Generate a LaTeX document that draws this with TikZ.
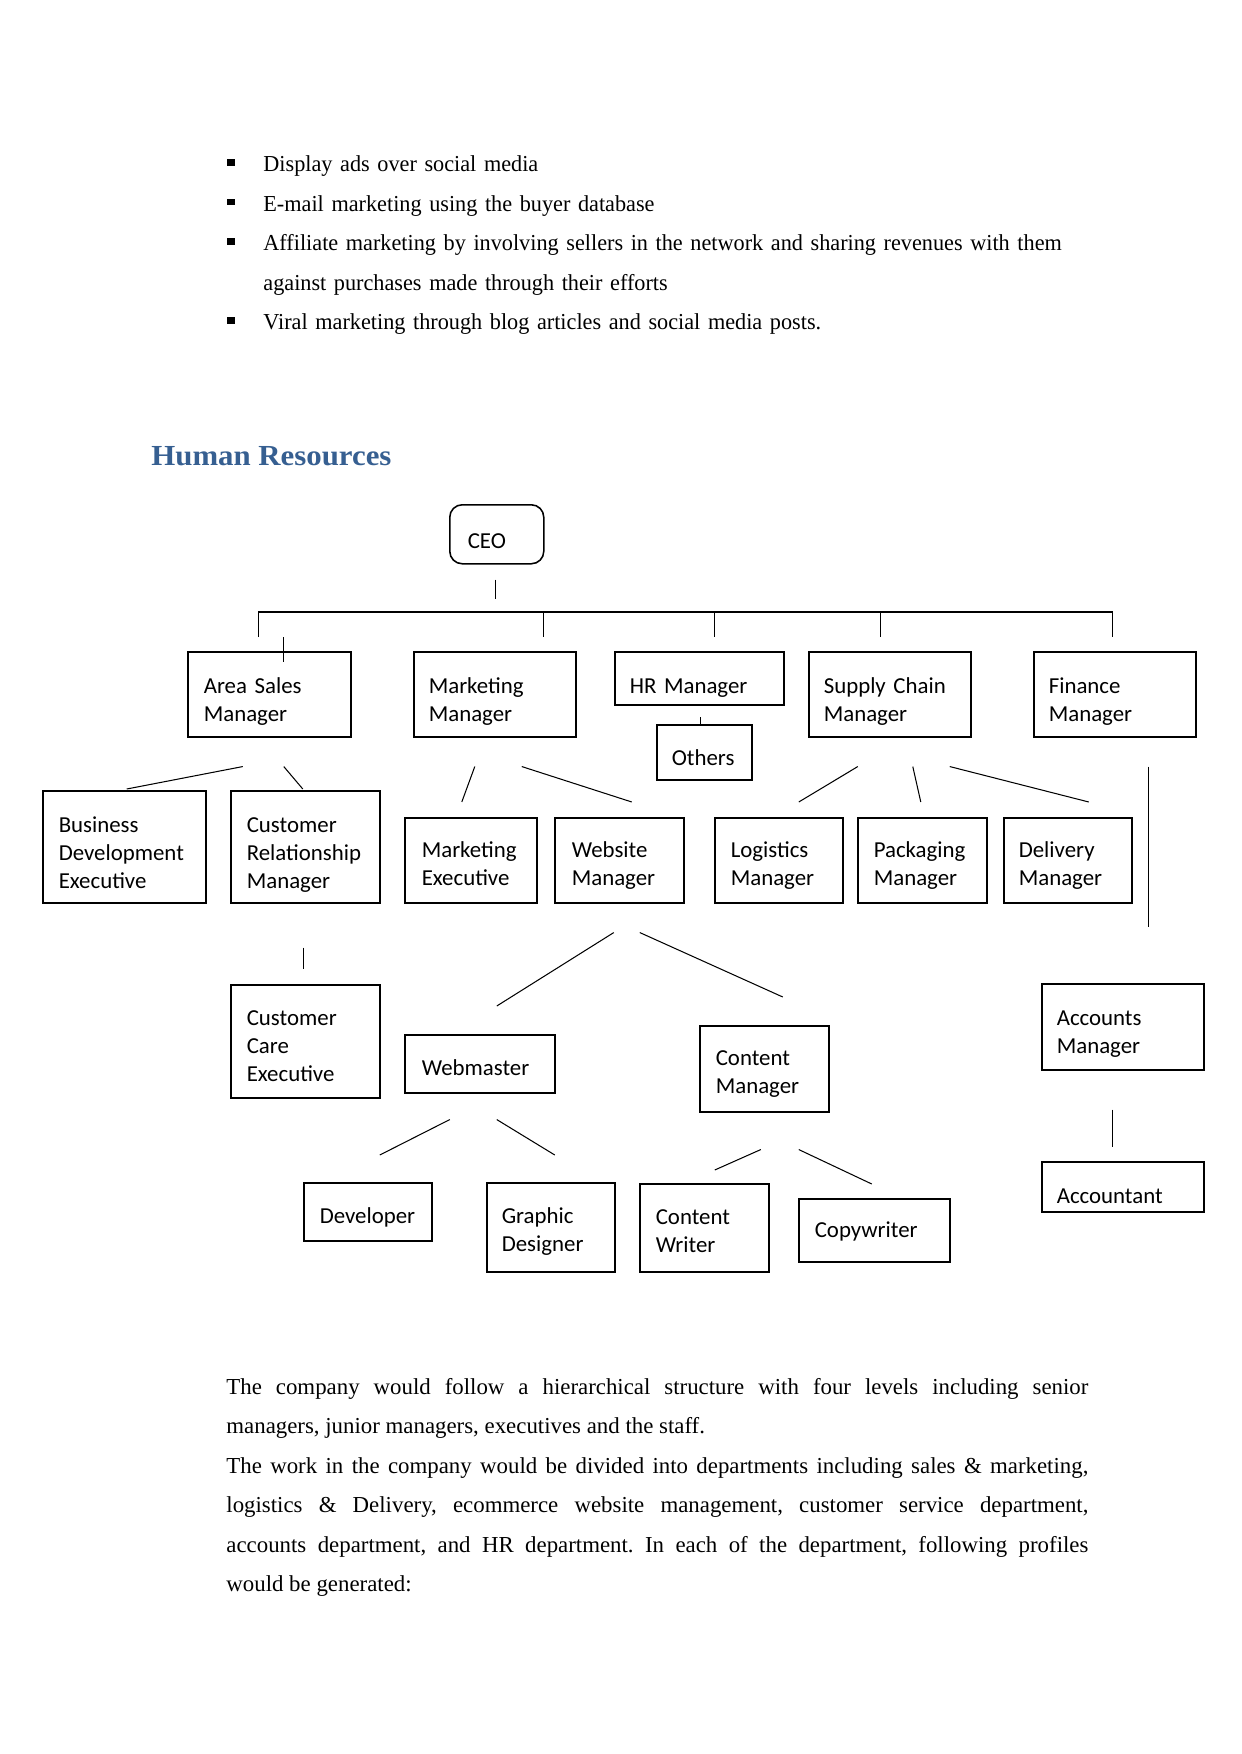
\documentclass[tikz,border=0pt]{standalone}
\usepackage{fontspec}
\setmainfont{Liberation Serif}
\newfontfamily\listfont[FakeStretch=0.973]{Liberation Serif}
\newfontfamily\boxfont{Carlito}
\newfontfamily\headfont[FakeStretch=1.06]{Liberation Serif}
\usetikzlibrary{calc}
\hyphenpenalty=10000
\exhyphenpenalty=10000
\frenchspacing
\def\px{0.48147pt}
\definecolor{headblue}{RGB}{54,95,145}
\newcommand{\sqbul}{\makebox[17.33pt][l]{\raisebox{2.85pt}{\rule{3.6pt}{3.2pt}}}}
\tikzstyle{post}=[rectangle,draw,line width=0.75pt,anchor=north west,align=left,inner ysep=0pt,font=\boxfont\fontsize{11pt}{13.5pt}\selectfont]
\tikzstyle{chief}=[post,rounded corners=6pt]
\tikzstyle{link}=[line width=0.5pt]
\tikzstyle{body}=[anchor=base west,inner sep=0pt,align=left,font=\fontsize{11pt}{19.05pt}\selectfont]
\tikzset{boxdims/.code n args={4}{%
  \pgfmathsetlengthmacro\bxpad{#1*\px}%
  \pgfmathsetlengthmacro\bxwd{#2*\px}%
  \pgfmathsetlengthmacro\bxht{#3*\px}%
  \pgfmathsetlengthmacro\bxdp{#4*\px}%
  \edef\bxset{\noexpand\tikzset{inner xsep=\bxpad,text width=\bxwd,text height=\bxht,text depth=\bxdp}}\bxset}}

\begin{document}
\begin{tikzpicture}[x=\px,y=-\px]
\useasboundingbox (0,0) rectangle (1241,1754);
\path[fill=white] (0,0) rectangle (1241,1754);

\node[body, text width=900*\px, font=\listfont\fontsize{11pt}{19.05pt}\selectfont] (adlist) at (227,171.7) {\sqbul Display ads over social media\\
\sqbul E-mail marketing using the buyer database\\
\sqbul Affiliate marketing by involving sellers in the network and sharing revenues with them\\
\hspace*{17.33pt}against purchases made through their efforts\\
\sqbul Viral marketing through blog articles and social media posts.};

\node[anchor=base west, inner sep=0pt, text=headblue, font=\headfont\bfseries\fontsize{14pt}{17pt}\selectfont] (hrtitle) at (151,465) {Human Resources};

\node[chief, boxdims={18}{58}{44}{15}] (ceo) at (449,504) {CEO};

\node[post, boxdims={16}{131}{42}{43}] (asm) at (187,651) {Area Sales\\Manager};
\node[post, boxdims={15}{132}{42}{43}] (mm) at (413,651) {Marketing\\Manager};
\node[post, boxdims={15}{139}{42}{11}] (hr) at (614,651) {HR Manager};
\node[post, boxdims={15}{65}{41}{14}] (oth) at (656,724) {Others};
\node[post, boxdims={15}{132}{42}{43}] (scm) at (808,651) {Supply Chain\\Manager};
\node[post, boxdims={15}{132}{42}{43}] (fm) at (1033,651) {Finance\\Manager};

\node[post, boxdims={16}{131}{42}{70}] (bde) at (42,790) {Business\\Development\\Executive};
\node[post, boxdims={16}{117}{42}{70}] (crm) at (230,790) {Customer\\Relationship\\Manager};
\node[post, boxdims={17}{98}{40}{45}] (me) at (404,817) {Marketing\\Executive};
\node[post, boxdims={17}{95}{40}{45}] (wm) at (554,817) {Website\\Manager};
\node[post, boxdims={16}{96}{40}{45}] (lm) at (714,817) {Logistics\\Manager};
\node[post, boxdims={16}{97}{40}{45}] (pm) at (857,817) {Packaging\\Manager};
\node[post, boxdims={15}{98}{40}{45}] (dm) at (1003,817) {Delivery\\Manager};

\node[post, boxdims={16}{117}{41}{72}] (cce) at (230,984) {Customer\\Care\\Executive};
\node[post, boxdims={17}{116}{41}{17}] (web) at (404,1034) {Webmaster};
\node[post, boxdims={16}{97}{40}{46}] (cm) at (699,1025) {Content\\Manager};
\node[post, boxdims={15}{132}{42}{44}] (am) at (1041,983) {Accounts\\Manager};
\node[post, boxdims={15}{132}{42}{8}] (acc) at (1041,1161) {Accountant};

\node[post, boxdims={16}{96}{41}{17}] (dev) at (303,1182) {Developer};
\node[post, boxdims={15}{98}{41}{48}] (gd) at (486,1182) {Graphic\\Designer};
\node[post, boxdims={16}{97}{41}{47}] (cw) at (639,1183) {Content\\Writer};
\node[post, boxdims={16}{119}{39}{24}] (cop) at (798,1198) {Copywriter};

\draw[link] ($(ceo.south)+(-1,15)$) -- ($(ceo.south)+(-1,34)$);
\draw[link] ($(asm.north)+(-10.5,-14)$) |- ($(fm.north)+(-2,-39)$) -- ($(fm.north)+(-2,-14)$);
\foreach \n/\dx in {mm/49,hr/15.5,scm/-9}
  \draw[link] ($(\n.north)+(\dx,-39)$) -- ($(\n.north)+(\dx,-14)$);
\draw[link] ($(asm.north)+(14.5,-14)$) -- ($(asm.north)+(14.5,11)$);
\draw[link] ($(oth.north)+(-3.5,-7)$) -- ($(oth.north)+(-3.5,0)$);

\draw[link] ($(asm.south)+(-26.5,29)$) -- ($(bde.north)+(2.5,-1)$);
\draw[link] ($(asm.south)+(14.5,29)$) -- ($(crm.north)+(-2.5,-1)$);
\draw[link] ($(mm.south)+(-20,29)$) -- ($(me.north)+(-9,-15)$);
\draw[link] ($(mm.south)+(27,29)$) -- ($(wm.north)+(12.5,-15)$);
\draw[link] ($(scm.south)+(-32,29)$) -- ($(lm.north)+(20,-15)$);
\draw[link] ($(scm.south)+(23,29)$) -- ($(pm.north)+(-1.5,-15)$);
\draw[link] ($(scm.south)+(60,29)$) -- ($(dm.north)+(21,-15)$);
\draw[link] ($(fm.south)+(34,29)$) -- ($(am.north)+(26,-56)$);

\draw[link] ($(crm.south)+(-1.5,44)$) -- ($(cce.north)+(-1.5,-15)$);
\draw[link] ($(wm.south)+(-5.5,29)$) -- ($(web.north)+(17,-28)$);
\draw[link] ($(wm.south)+(20.5,29)$) -- ($(cm.north)+(18.5,-28)$);
\draw[link] ($(am.south)+(-10,39)$) -- ($(acc.north)+(-10,-14)$);

\draw[link] ($(web.south)+(-30,26)$) -- ($(dev.north)+(12,-27)$);
\draw[link] ($(web.south)+(17,26)$) -- ($(gd.north)+(4,-27)$);
\draw[link] ($(cm.south)+(-3.5,37)$) -- ($(cw.north)+(10.5,-13)$);
\draw[link] ($(cm.south)+(34.5,37)$) -- ($(cop.north)+(-2.5,-14)$);

\node[body, text width=862*\px, align=justify] (structtext) at (226,1394) {The company would follow a hierarchical structure with four levels including senior\linebreak
managers, junior managers, executives and the staff.\\
The work in the company would be divided into departments including sales \& marketing,\linebreak
logistics \& Delivery, ecommerce website management, customer service department,\linebreak
accounts department, and HR department. In each of the department, following profiles\linebreak
would be generated:};
\end{tikzpicture}
\end{document}
